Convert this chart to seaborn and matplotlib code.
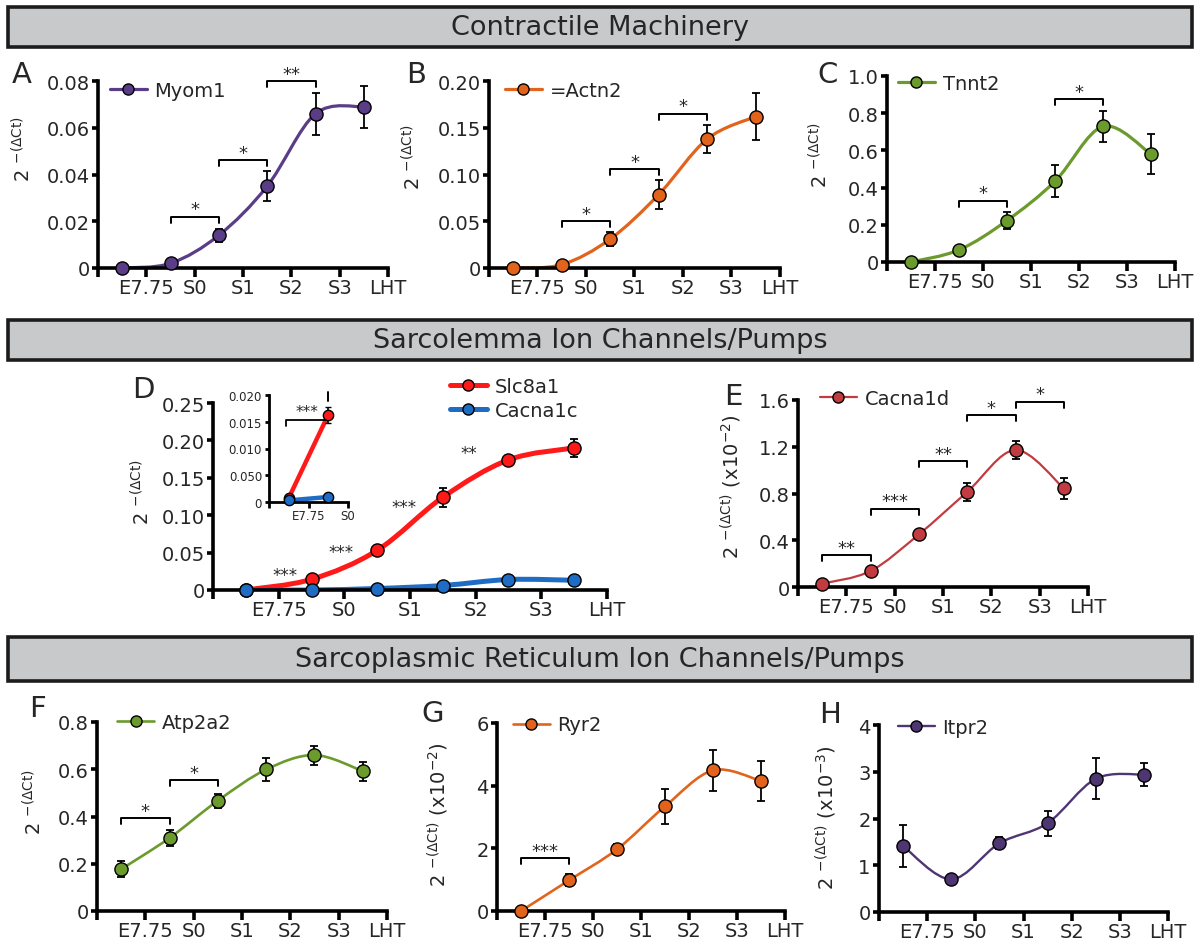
import numpy as np
import matplotlib
matplotlib.use("Agg")
import matplotlib.pyplot as plt
import seaborn as sns
from matplotlib.path import Path
from matplotlib.patches import PathPatch, Rectangle
from matplotlib.lines import Line2D

# ---- data ----
stage_labels = ['E7.75', 'S0', 'S1', 'S2', 'S3', 'LHT']

myom1 = [0.0, 0.002, 0.014, 0.035, 0.066, 0.069]
myom1_err = [0.0, 0.0005, 0.0028, 0.0064, 0.009, 0.009]

actn2 = [0.0, 0.0036, 0.031, 0.0786, 0.138, 0.162]
actn2_err = [0.0, 0.002, 0.007, 0.0157, 0.0146, 0.025]

tnnt2 = [0.0, 0.065, 0.223, 0.434, 0.729, 0.58]
tnnt2_err = [0.0, 0.01, 0.045, 0.085, 0.082, 0.107]

slc8a1 = [0.0, 0.0143, 0.053, 0.124, 0.174, 0.19]
slc8a1_err = [0.0, 0.001, 0.002, 0.0125, 0.002, 0.0125]
cacna1c = [0.0, 0.0, 0.002, 0.006, 0.014, 0.013]
cacna1c_err = [0.0, 0.0, 0.0005, 0.001, 0.001, 0.001]

# inset of panel D (first two stages)
slc8a1_early = [0.00075, 0.0163]
slc8a1_early_err = [0.0002, 0.0015]
cacna1c_early = [0.0003, 0.00094]

cacna1d = [0.0285, 0.137, 0.45, 0.813, 1.172, 0.844]
cacna1d_err = [0.015, 0.015, 0.04, 0.08, 0.08, 0.09]

atp2a2 = [0.177, 0.309, 0.467, 0.599, 0.66, 0.592]
atp2a2_err = [0.035, 0.032, 0.03, 0.05, 0.04, 0.04]

ryr2 = [0.0, 0.98, 1.97, 3.34, 4.49, 4.15]
ryr2_err = [0.0, 0.19, 0.16, 0.55, 0.66, 0.65]

itpr2 = [1.41, 0.70, 1.47, 1.90, 2.85, 2.94]
itpr2_err = [0.45, 0.09, 0.13, 0.27, 0.44, 0.24]

# significance brackets: (from, to, height, label)
sig_A = [(1.5, 2.5, 0.022, '*'), (2.5, 3.5, 0.046, '*'), (3.5, 4.5, 0.080, '**')]
sig_B = [(1.5, 2.5, 0.05, '*'), (2.5, 3.5, 0.106, '*'), (3.5, 4.5, 0.165, '*')]
sig_C = [(1.5, 2.5, 0.33, '*'), (3.5, 4.5, 0.875, '*')]
sig_E = [(0.5, 1.5, 0.274, '**'), (1.5, 2.5, 0.67, '***'), (2.5, 3.5, 1.078, '**'),
         (3.5, 4.5, 1.469, '*'), (4.5, 5.5, 1.586, '*')]
sig_F = [(0.5, 1.5, 0.392, '*'), (1.5, 2.5, 0.555, '*')]
sig_G = [(0.5, 1.5, 1.68, '***')]
stars_D = [(1.09, 0.0136, '***'), (1.95, 0.044, '***'), (2.91, 0.104, '***'), (3.9, 0.177, '**')]

W, H = 1200, 945
sns.set_style('ticks')
plt.rcParams['font.family'] = ['DejaVu Sans']
plt.rcParams['mathtext.default'] = 'regular'

fig = plt.figure(figsize=(W / 100, H / 100), dpi=100)

YLAB = '2 $^{-(ΔCt)}$'


def add_ax(x0, y0, x1, y1):
    return fig.add_axes([x0 / W, 1 - y1 / H, (x1 - x0) / W, (y1 - y0) / H])


def smooth_path(xs, ys):
    # catmull-rom style bezier through the points (rendering only)
    pts = np.column_stack([xs, ys])
    n = len(pts)
    verts = [pts[0]]
    codes = [Path.MOVETO]
    for i in range(n - 1):
        p0 = pts[max(i - 1, 0)]
        p1 = pts[i]
        p2 = pts[i + 1]
        p3 = pts[min(i + 2, n - 1)]
        verts += [p1 + (p2 - p0) / 6, p2 - (p3 - p1) / 6, p2]
        codes += [Path.CURVE4] * 3
    return Path(verts, codes)


def style_axis(ax, yticks, ylabels, ymax, xlabels=stage_labels, lw=2.6, size=14):
    sns.despine(ax=ax)
    ax.set_xlim(0, len(xlabels))
    ax.set_ylim(0, ymax)
    ax.set_xticks(range(len(xlabels) + 1))
    ax.set_xticklabels([''] + xlabels)
    ax.set_yticks(yticks)
    ax.set_yticklabels(ylabels)
    for s in ['left', 'bottom']:
        ax.spines[s].set_linewidth(lw)
        ax.spines[s].set_color('black')
    ax.tick_params(axis='x', length=6.5, width=lw, labelsize=size, pad=0.5, color='black')
    ax.tick_params(axis='y', length=4, width=lw, labelsize=size, pad=2, color='black')
    ax.set_facecolor('none')


def draw_series(ax, vals, errs, color, lw):
    x = np.arange(len(vals)) + 0.5
    ax.add_patch(PathPatch(smooth_path(x, vals), fill=False, edgecolor=color, lw=lw,
                           zorder=2, capstyle='round'))
    ax.errorbar(x, vals, yerr=errs, fmt='none', ecolor='black', elinewidth=1.3,
                capsize=3, capthick=1.3, zorder=3, clip_on=False)
    sns.scatterplot(x=x, y=vals, ax=ax, color=color, s=90, edgecolor='black',
                    linewidth=1, zorder=4, legend=False, clip_on=False)


def brackets(ax, sigs, ymax, size=13):
    h = 0.032 * ymax
    for x0, x1, y, lab in sigs:
        ax.plot([x0, x0, x1, x1], [y - h, y, y, y - h], color='black', lw=1.4,
                clip_on=False, zorder=5)
        ax.text((x0 + x1) / 2, y + 0.012 * ymax, lab, ha='center', va='baseline',
                fontsize=size, clip_on=False)


def legend(ax, entries, anchor, loc='upper left'):
    handles = [Line2D([], [], color=c, lw=lw, marker='o', markersize=8,
                      markerfacecolor=c, markeredgecolor='black', markeredgewidth=1)
               for _, c, lw in entries]
    ax.legend(handles, [n for n, _, _ in entries], loc=loc, bbox_to_anchor=anchor,
              frameon=False, fontsize=14, handlelength=1.9, handletextpad=0.4,
              borderpad=0, borderaxespad=0, labelspacing=0.25)


def ylab(ax, text, xoff, yfrac, ax_w):
    ax.set_ylabel(text, fontsize=14)
    ax.yaxis.set_label_coords(xoff / ax_w, yfrac)


def letter(x, y, s):
    fig.text(x / W, 1 - y / H, s, fontsize=21, ha='left', va='baseline')


def header(y0, y1, title):
    fig.add_artist(Rectangle((8 / W, 1 - y1 / H), 1184 / W, (y1 - y0) / H,
                             transform=fig.transFigure, facecolor='#c8c9cb',
                             edgecolor='#1c1c1c', lw=2.6))
    fig.text(0.5, 1 - (y0 + y1) / 2 / H, title, ha='center', va='center', fontsize=19.5)


# ---- headers ----
header(8, 48, 'Contractile Machinery')
header(321, 361, 'Sarcolemma Ion Channels/Pumps')
header(638, 682, 'Sarcoplasmic Reticulum Ion Channels/Pumps')

purple = '#5a3d86'
orange = '#e2641c'
green = '#6b9a2d'

# ---- A ----
axA = add_ax(98, 82, 388, 269)
draw_series(axA, myom1, myom1_err, purple, 2.3)
style_axis(axA, [0, 0.02, 0.04, 0.06, 0.08], ['0', '0.02', '0.04', '0.06', '0.08'], 0.08)
brackets(axA, sig_A, 0.08)
legend(axA, [('Myom1', purple, 2.3)], (0.04, 1.0))
ylab(axA, YLAB, -63, 0.64, 290)
letter(12, 83, 'A')

# ---- B ----
axB = add_ax(489, 82, 780, 269)
draw_series(axB, actn2, actn2_err, orange, 2.3)
style_axis(axB, [0, 0.05, 0.10, 0.15, 0.20], ['0', '0.05', '0.10', '0.15', '0.20'], 0.20)
brackets(axB, sig_B, 0.20)
legend(axB, [('=Actn2', orange, 2.3)], (0.055, 1.0))
ylab(axB, YLAB, -64, 0.60, 291)
letter(406, 83, 'B')

# ---- C ----
axC = add_ax(887, 77, 1175, 263)
draw_series(axC, tnnt2, tnnt2_err, green, 2.3)
style_axis(axC, [0, 0.2, 0.4, 0.6, 0.8, 1.0], ['0', '0.2', '0.4', '0.6', '0.8', '1.0'], 1.0)
brackets(axC, sig_C, 1.0)
legend(axC, [('Tnnt2', green, 2.3)], (0.038, 1.01))
ylab(axC, YLAB, -56, 0.58, 288)
letter(817, 83, 'C')

# ---- D ----
red = '#ff1a1a'
blue = '#1f6cc4'
axD = add_ax(213, 404, 607, 591)
draw_series(axD, slc8a1, slc8a1_err, red, 3.6)
draw_series(axD, cacna1c, cacna1c_err, blue, 3.6)
style_axis(axD, [0, 0.05, 0.10, 0.15, 0.20, 0.25],
           ['0', '0.05', '0.10', '0.15', '0.20', '0.25'], 0.25)
for xs, ys, lab in stars_D:
    axD.text(xs, ys, lab, ha='center', va='baseline', fontsize=12)
legend(axD, [('Slc8a1', red, 3.6), ('Cacna1c', blue, 3.6)], (1 - 29 / 394, 1.14),
       loc='upper right')
ylab(axD, YLAB, -59, 0.53, 394)
letter(132, 398, 'D')

# inset
axI = add_ax(269, 396, 348, 503)
xi = np.arange(len(slc8a1_early)) + 0.5
sns.lineplot(x=xi, y=slc8a1_early, ax=axI, color=red, lw=3.2, zorder=2)
sns.lineplot(x=xi, y=cacna1c_early, ax=axI, color=blue, lw=3.2, zorder=2)
axI.errorbar(xi, slc8a1_early, yerr=slc8a1_early_err, fmt='none', ecolor='black',
             elinewidth=1.2, capsize=2, zorder=3, clip_on=False)
axI.plot([1.5, 1.5], [0.0189, 0.0206], color='black', lw=1.4, clip_on=False)
sns.scatterplot(x=xi, y=slc8a1_early, ax=axI, color=red, s=55, edgecolor='black',
                linewidth=1, zorder=4, legend=False, clip_on=False)
sns.scatterplot(x=xi, y=cacna1c_early, ax=axI, color=blue, s=55, edgecolor='black',
                linewidth=1, zorder=4, legend=False, clip_on=False)
style_axis(axI, [0, 0.005, 0.010, 0.015, 0.020], ['0', '0.050', '0.010', '0.015', '0.020'],
           0.020, xlabels=['E7.75', 'S0'], lw=2.0, size=8.5)
axI.tick_params(axis='x', length=4, pad=1)
axI.tick_params(axis='y', length=3)
axI.plot([0.43, 0.43, 1.49], [0.0142, 0.0153, 0.0153], color='black', lw=1.3,
         clip_on=False)
axI.text(0.97, 0.0160, '***', ha='center', va='baseline', fontsize=11)

# ---- E ----
red2 = '#c23b40'
axE = add_ax(798, 401, 1088, 588)
draw_series(axE, cacna1d, cacna1d_err, red2, 1.6)
style_axis(axE, [0, 0.4, 0.8, 1.2, 1.6], ['0', '0.4', '0.8', '1.2', '1.6'], 1.6)
brackets(axE, sig_E, 1.6)
legend(axE, [('Cacna1d', red2, 1.6)], (0.075, 1.06))
ylab(axE, YLAB + ' (x10$^{-2}$)', -54, 0.54, 290)
letter(724, 405, 'E')

# ---- F ----
axF = add_ax(97, 723, 387, 912)
draw_series(axF, atp2a2, atp2a2_err, green, 1.9)
style_axis(axF, [0, 0.2, 0.4, 0.6, 0.8], ['0', '0.2', '0.4', '0.6', '0.8'], 0.8)
brackets(axF, sig_F, 0.8)
legend(axF, [('Atp2a2', green, 1.9)], (0.07, 1.05))
ylab(axF, YLAB, -51, 0.58, 290)
letter(29, 717, 'F')

# ---- G ----
axG = add_ax(497, 724, 785, 912)
draw_series(axG, ryr2, ryr2_err, orange, 1.9)
style_axis(axG, [0, 2, 4, 6], ['0', '2', '4', '6'], 6)
brackets(axG, sig_G, 6)
legend(axG, [('Ryr2', orange, 1.9)], (0.055, 1.04))
ylab(axG, YLAB + ' (x10$^{-2}$)', -46, 0.52, 288)
letter(421, 722, 'G')

# ---- H ----
axH = add_ax(879, 726, 1168, 913)
draw_series(axH, itpr2, itpr2_err, '#4e3673', 1.7)
style_axis(axH, [0, 1, 2, 3, 4], ['0', '1', '2', '3', '4'], 4)
legend(axH, [('Itpr2', '#4e3673', 1.7)], (0.065, 1.04))
ylab(axH, YLAB + ' (x10$^{-3}$)', -40, 0.51, 289)
letter(819, 723, 'H')

fig.savefig('out.png', dpi=100)
